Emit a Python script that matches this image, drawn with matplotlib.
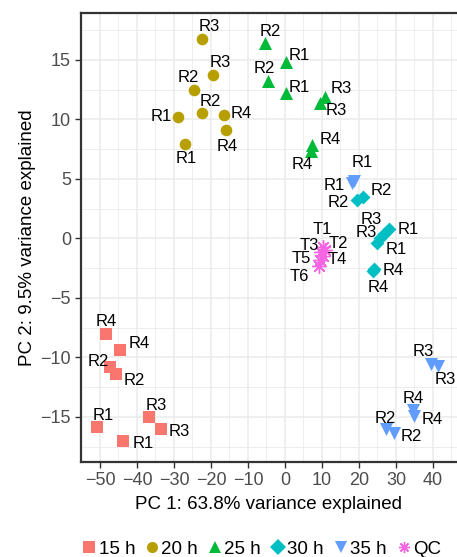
import matplotlib
matplotlib.use("Agg")
import matplotlib.pyplot as plt
from matplotlib.lines import Line2D
from matplotlib.ticker import MultipleLocator

plt.rcParams['font.family'] = ['Liberation Sans', 'DejaVu Sans']

# PCA scores
groups = ['15 h', '20 h', '25 h', '30 h', '35 h', 'QC']
colors = ['#F8766D', '#B79F00', '#00BA38', '#00BFC4', '#619CFF', '#F564E3']

pc1_15 = [-48.4, -44.6, -47.3, -45.7, -36.7, -33.6, -50.8, -43.8]
pc2_15 = [-8.07, -9.41, -10.84, -11.43, -15.04, -16.05, -15.83, -17.03]
lab_15 = ['R4', 'R4', 'R2', 'R2', 'R3', 'R3', 'R1', 'R1']

pc1_20 = [-22.3, -19.4, -24.7, -22.4, -28.9, -16.5, -15.9, -27.0]
pc2_20 = [16.77, 13.75, 12.49, 10.53, 10.17, 10.39, 9.13, 7.92]
lab_20 = ['R3', 'R3', 'R2', 'R2', 'R1', 'R4', 'R4', 'R1']

pc1_25 = [-5.5, 0.4, -4.7, 0.4, 10.7, 9.4, 7.2, 7.0]
pc2_25 = [16.39, 14.79, 13.22, 12.18, 11.87, 11.37, 7.84, 7.36]
lab_25 = ['R2', 'R1', 'R2', 'R1', 'R3', 'R3', 'R4', 'R4']

pc1_30 = [19.5, 21.1, 26.9, 28.1, 25.8, 24.9, 23.8, 24.2]
pc2_30 = [3.22, 3.45, 0.36, 0.76, 0.0, -0.37, -2.72, -2.58]
lab_30 = ['R2', 'R2', 'R3', 'R1', 'R3', 'R1', 'R4', 'R4']

pc1_35 = [18.6, 18.0, 27.2, 29.4, 34.6, 34.8, 39.4, 41.4]
pc2_35 = [4.82, 4.65, -16.05, -16.34, -14.43, -14.93, -10.56, -10.71]
lab_35 = ['R1', 'R1', 'R2', 'R2', 'R4', 'R4', 'R3', 'R3']

pc1_qc = [10.2, 10.7, 9.7, 10.2, 9.4, 9.1]
pc2_qc = [-0.73, -0.98, -1.15, -1.49, -1.83, -2.33]
lab_qc = ['T1', 'T2', 'T3', 'T4', 'T5', 'T6']

# label offsets in pixels (repel-style placement)
off_15 = [(0, 13), (19, 7), (-12, 6), (18, -6), (7, 12), (19, -2), (6, 11), (20, -3)]
off_20 = [(7, 12), (7, 12), (-5, 12), (8, 12), (-17, 1), (17, 1), (1, -17), (1, -14)]
off_25 = [(6, 12), (13, 7), (-3, 13), (13, 6), (17, 9), (17, -7), (19, 6), (-9, -14)]
off_30 = [(-19, -2), (18, 7), (-13, 15), (19, 0), (-14, 6), (19, -7), (20, 0), (4, -18)]
off_35 = [(8, 18), (-17, -3), (0, 11), (18, -4), (0, 12), (19, -3), (-7, 13), (7, -14)]
off_qc = [(0, 18), (14, 6), (-12, 7), (15, -3), (-18, 2), (-19, -10)]

markers = ['s', 'o', '^', 'D', 'v', (8, 2, 0)]
sizes = [68, 70, 88, 50, 88, 100]

data = [(pc1_15, pc2_15, lab_15, off_15), (pc1_20, pc2_20, lab_20, off_20),
        (pc1_25, pc2_25, lab_25, off_25), (pc1_30, pc2_30, lab_30, off_30),
        (pc1_35, pc2_35, lab_35, off_35), (pc1_qc, pc2_qc, lab_qc, off_qc)]

W, H = 457, 557
fig = plt.figure(figsize=(W / 100, H / 100), dpi=100)
ax = fig.add_axes([80.7 / W, 1 - 462.3 / H, (W - 80.7) / W, (462.3 - 12.7) / H])

for i, (xs, ys, labs, offs) in enumerate(data):
    ax.scatter(xs, ys, marker=markers[i], s=sizes[i], color=colors[i],
               linewidths=1.0 if i == 5 else 0, zorder=3)
    for x, y, t, o in zip(xs, ys, labs, offs):
        ax.annotate(t, (x, y), xytext=o, textcoords='offset pixels',
                    ha='center', va='center', fontsize=12, color='black', zorder=4)

ax.set_xlim(-55.2, 46.5)
ax.set_ylim(-18.82, 18.96)
ax.xaxis.set_major_locator(MultipleLocator(10))
ax.xaxis.set_minor_locator(MultipleLocator(5))
ax.yaxis.set_major_locator(MultipleLocator(5))
ax.yaxis.set_minor_locator(MultipleLocator(2.5))
ax.grid(True, which='major', color='#EBEBEB', linewidth=1.1)
ax.grid(True, which='minor', color='#EBEBEB', linewidth=0.6)
ax.set_axisbelow(True)
ax.tick_params(which='major', direction='out', length=4, width=1, color='#333333',
               labelsize=13, labelcolor='#4D4D4D', pad=3)
ax.tick_params(which='minor', length=0)
for side in ['left', 'bottom', 'top']:
    ax.spines[side].set_color('#333333')
    ax.spines[side].set_linewidth(1.6)
ax.spines['right'].set_visible(False)

ax.set_xlabel('PC 1: 63.8% variance explained', fontsize=13.5, labelpad=5)
ax.set_ylabel('PC 2: 9.5% variance explained', fontsize=13.5, labelpad=3)

handles = []
for i in range(len(groups)):
    handles.append(Line2D([], [], linestyle='none', marker=markers[i], color=colors[i],
                          markersize=8, markeredgewidth=1.0 if i == 5 else 0))
fig.legend(handles, groups, loc='center', bbox_to_anchor=(0.574, 1 - 549 / H), ncol=6,
           frameon=False, fontsize=13.5, handlelength=0.6, handletextpad=0.2,
           columnspacing=0.6, borderaxespad=0, borderpad=0)

fig.savefig('out.png', dpi=100)
